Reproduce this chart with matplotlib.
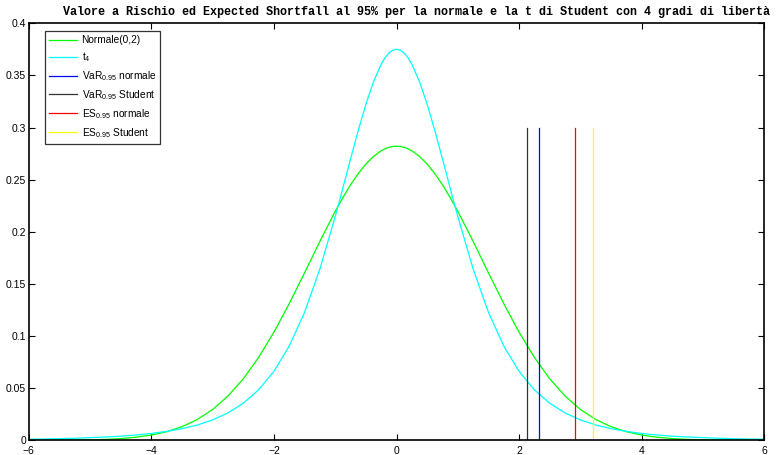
import numpy as np
import matplotlib
matplotlib.use('Agg')
import matplotlib.pyplot as plt

# x grid (tails every 0.25, centre finer)
x_right = [0.0, 0.0625, 0.125, 0.1875, 0.25, 0.375, 0.5, 0.625, 0.75, 0.875,
           1.0, 1.25, 1.5, 1.75, 2.0, 2.25, 2.5, 2.75, 3.0, 3.25, 3.5, 3.75,
           4.0, 4.25, 4.5, 4.75, 5.0, 5.25, 5.5, 5.75, 6.0]
# density values read at x_right (curves are symmetric about 0)
normale_right = [0.2821, 0.2818, 0.2810, 0.2796, 0.2777, 0.2723, 0.2650, 0.2558,
                 0.2451, 0.2329, 0.2197, 0.1909, 0.1607, 0.1312, 0.1038, 0.0796,
                 0.0591, 0.0426, 0.0297, 0.0201, 0.0132, 0.0084, 0.0052, 0.0031,
                 0.0018, 0.0010, 0.0005, 0.0003, 0.0002, 0.0001, 0.0000]
t4_right = [0.3750, 0.3741, 0.3714, 0.3669, 0.3607, 0.3440, 0.3223, 0.2971,
            0.2699, 0.2420, 0.2147, 0.1644, 0.1229, 0.0905, 0.0663, 0.0485,
            0.0357, 0.0264, 0.0197, 0.0148, 0.0113, 0.0087, 0.0067, 0.0052,
            0.0041, 0.0033, 0.0027, 0.0021, 0.0017, 0.0014, 0.0012]

var_normale = 2.33
var_student = 2.13
es_normale = 2.92
es_student = 3.20
line_top = 0.3

xs = np.array([-v for v in x_right[:0:-1]] + x_right)
normale = np.array(normale_right[:0:-1] + normale_right)
t4 = np.array(t4_right[:0:-1] + t4_right)

plt.rcParams['font.family'] = ['Liberation Sans', 'DejaVu Sans']

fig = plt.figure(figsize=(7.79, 4.55), dpi=100)
ax = fig.add_axes([0.037, 0.032, 0.944, 0.917])

lw = 0.9
ax.plot(xs, normale, color='#00ff00', lw=lw, label='Normale(0,2)')
ax.plot(xs, t4, color='#00ffff', lw=lw, label='$\\mathregular{t_4}$')
ax.plot([var_normale, var_normale], [0, line_top], color='#0000ff', lw=lw,
        label='$\\mathregular{VaR_{0.95}}$ normale')
ax.plot([var_student, var_student], [0, line_top], color='#333333', lw=lw,
        label='$\\mathregular{VaR_{0.95}}$ Student')
ax.plot([es_normale, es_normale], [0, line_top], color='#ff0000', lw=lw,
        label='$\\mathregular{ES_{0.95}}$ normale')
ax.plot([es_student, es_student], [0, line_top], color='#ffff00', lw=lw,
        label='$\\mathregular{ES_{0.95}}$ Student')

ax.set_xlim(-6, 6)
ax.set_ylim(0, 0.4)
ax.set_xticks(np.arange(-6, 7, 2))
ax.set_yticks(np.arange(0, 0.41, 0.05))
ax.set_yticklabels(['0', '0.05', '0.1', '0.15', '0.2', '0.25', '0.3', '0.35', '0.4'])
ax.tick_params(direction='in', top=True, right=True, labelsize=7.5, length=4,
               width=0.8)
ax.tick_params(axis='x', pad=4)
ax.tick_params(axis='y', pad=2)
for s in ax.spines.values():
    s.set_linewidth(1.2)

leg = ax.legend(loc='upper left', bbox_to_anchor=(0.022, 0.981), fontsize=7.3,
                frameon=True, fancybox=False, edgecolor='black',
                handlelength=2.8, handletextpad=0.4, labelspacing=0.5,
                borderpad=0.4, borderaxespad=0.0)
leg.get_frame().set_linewidth(0.9)

fig.text(0.535, 0.967, 'Valore a Rischio ed Expected Shortfall al 95% per la normale '
         'e la t di Student con 4 gradi di libertà',
         ha='center', va='baseline', fontsize=8.45, fontweight='bold',
         family='Liberation Mono')

fig.savefig('out.png', dpi=100)
